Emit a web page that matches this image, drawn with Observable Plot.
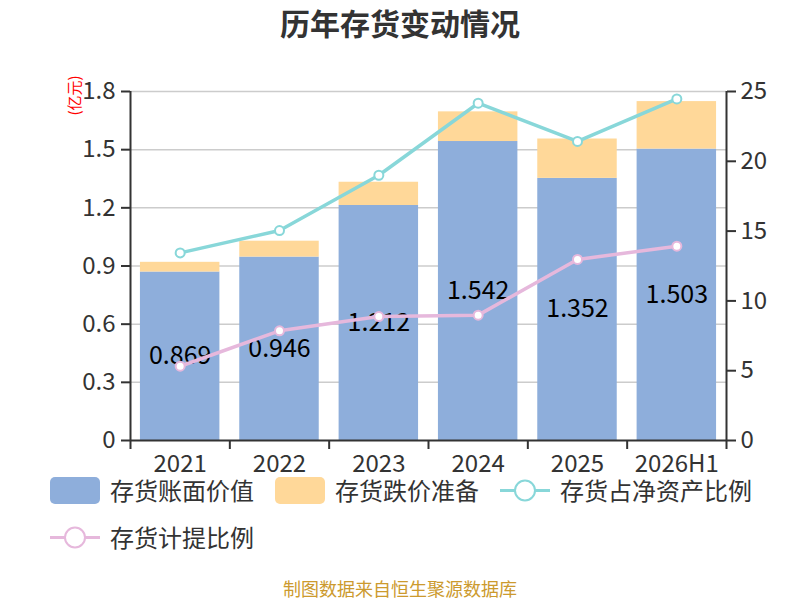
<!DOCTYPE html>
<html><head><meta charset="utf-8">
<script src="https://cdn.jsdelivr.net/npm/d3@7"></script>
<script src="https://cdn.jsdelivr.net/npm/@observablehq/plot@0.6"></script>
<style>
body{margin:0;background:#fff;font-family:"Noto Sans CJK SC","Noto Sans",sans-serif;}
#wrap{position:relative;width:800px;height:600px;overflow:hidden;background:#fff;}
#title{position:absolute;top:2px;left:0;width:800px;text-align:center;font-size:30px;font-weight:bold;color:#333;line-height:40px;}
#chart{position:absolute;top:60px;left:0;}
.legend{position:absolute;left:50px;display:flex;align-items:center;font-size:24px;color:#333;line-height:28px;}
.item{display:flex;align-items:center;margin-right:21px;}
.sw{width:50px;height:27px;border-radius:5px;margin-right:10px;}
.ln{width:50px;height:27px;margin-right:10px;}
#caption{position:absolute;top:577px;left:0;width:800px;text-align:center;font-size:18px;color:#cc9a2e;line-height:22px;}
</style></head><body>
<div id="wrap">
  <div id="title">历年存货变动情况</div>
  <div id="chart"></div>
  <div class="legend" id="legend1" style="top:476px"></div>
  <div class="legend" id="legend2" style="top:523px"></div>
  <div id="caption">制图数据来自恒生聚源数据库</div>
</div>
<script>
const categories = ["2021","2022","2023","2024","2025","2026H1"];
const bookValue = [0.869,0.946,1.212,1.542,1.352,1.503];
const impairment = [0.050,0.082,0.120,0.153,0.203,0.245];
const shareOfNetAssets = [13.44,15.04,19.0,24.16,21.42,24.47];
const provisionRatio = [5.32,7.86,8.88,8.98,12.97,13.92];
const leftTicks = [0,0.3,0.6,0.9,1.2,1.5,1.8];
const rightTicks = [0,5,10,15,20,25];
const seriesNames = ["存货账面价值","存货跌价准备","存货占净资产比例","存货计提比例"];
const colors = ["#8eaedb","#ffd899","#88d7d9","#e6b8dc"];

const leftMax = leftTicks[leftTicks.length-1];
const rightMax = rightTicks[rightTicks.length-1];
const k = leftMax / rightMax;
const rows = categories.map((c,i)=>({i, cat:c, book:bookValue[i], imp:impairment[i],
  share:shareOfNetAssets[i]*k, prov:provisionRatio[i]*k}));
const idx = categories.map((c,i)=>i);
const bounds = d3.range(-0.5, categories.length, 1);
const half = 0.4;

const chart = Plot.plot({
  width: 800, height: 420,
  marginLeft: 130, marginRight: 74, marginTop: 31, marginBottom: 40,
  style: {fontFamily: '"Noto Sans CJK SC","Noto Sans",sans-serif', color: "#333", background: "transparent", overflow: "visible"},
  x: {domain: [-0.5, categories.length - 0.5], axis: null},
  y: {domain: [0, leftMax], axis: null},
  marks: [
    Plot.ruleY(leftTicks.slice(1), {stroke: "#ccc", strokeWidth: 1.5}),
    Plot.rectY(rows, {x1: d=>d.i-half, x2: d=>d.i+half, y1: 0, y2: "book", fill: colors[0]}),
    Plot.rectY(rows, {x1: d=>d.i-half, x2: d=>d.i+half, y1: "book", y2: d=>d.book+d.imp, fill: colors[1]}),
    Plot.text(rows, {x: "i", y: d=>d.book/2, text: d=>d.book.toFixed(3), fontSize: 25, fill: "#000"}),
    Plot.line(rows, {x: "i", y: "share", stroke: colors[2], strokeWidth: 3.5}),
    Plot.dot(rows, {x: "i", y: "share", r: 4.5, fill: "#fff", stroke: colors[2], strokeWidth: 2}),
    Plot.line(rows, {x: "i", y: "prov", stroke: colors[3], strokeWidth: 3.5}),
    Plot.dot(rows, {x: "i", y: "prov", r: 4.5, fill: "#fff", stroke: colors[3], strokeWidth: 2}),
    Plot.ruleY([0], {stroke: "#333", strokeWidth: 2}),
    Plot.ruleX([bounds[0], bounds[bounds.length-1]], {y1: 0, y2: leftMax, stroke: "#333", strokeWidth: 2}),
    Plot.axisX({ticks: bounds, tickSize: 9, tickFormat: () => "", label: null, stroke: "#333", strokeWidth: 2}),
    Plot.axisX({ticks: idx, tickSize: 0, tickPadding: 14, tickFormat: i => categories[i], label: null, fontSize: 24, fill: "#333"}),
    Plot.axisY({anchor: "left", ticks: leftTicks, tickSize: 9, tickPadding: 6, strokeWidth: 2, stroke: "#333", label: null,
      tickFormat: d => d === 0 ? "0" : d.toFixed(1), fontSize: 24, fill: "#333"}),
    Plot.axisY({anchor: "right", ticks: rightTicks.map(v=>v*k), tickSize: 9, tickPadding: 5, strokeWidth: 2, stroke: "#333", label: null,
      tickFormat: v => String(Math.round(v/k)), fontSize: 24, fill: "#333"}),
    Plot.text(["(亿元)"], {frameAnchor: "top-left", dx: -61, dy: 24, rotate: -90, fontSize: 15, fill: "#f00"}),
    Plot.text(["(%)"], {frameAnchor: "top-right", dx: 80, dy: 14, rotate: -90, fontSize: 15, fill: "#f00"})
  ]
});
document.getElementById("chart").appendChild(chart);

function swatch(i){ return `<div class="sw" style="background:${colors[i]}"></div>`; }
function lineIcon(i){
  return `<svg class="ln" viewBox="0 0 50 27"><line x1="0" y1="13.5" x2="50" y2="13.5" stroke="${colors[i]}" stroke-width="3"/><circle cx="25" cy="13.5" r="10" fill="#fff" stroke="${colors[i]}" stroke-width="2"/></svg>`;
}
document.getElementById("legend1").innerHTML =
  `<div class="item">${swatch(0)}<span>${seriesNames[0]}</span></div>` +
  `<div class="item">${swatch(1)}<span>${seriesNames[1]}</span></div>` +
  `<div class="item">${lineIcon(2)}<span>${seriesNames[2]}</span></div>`;
document.getElementById("legend2").innerHTML =
  `<div class="item">${lineIcon(3)}<span>${seriesNames[3]}</span></div>`;
</script>
</body></html>
